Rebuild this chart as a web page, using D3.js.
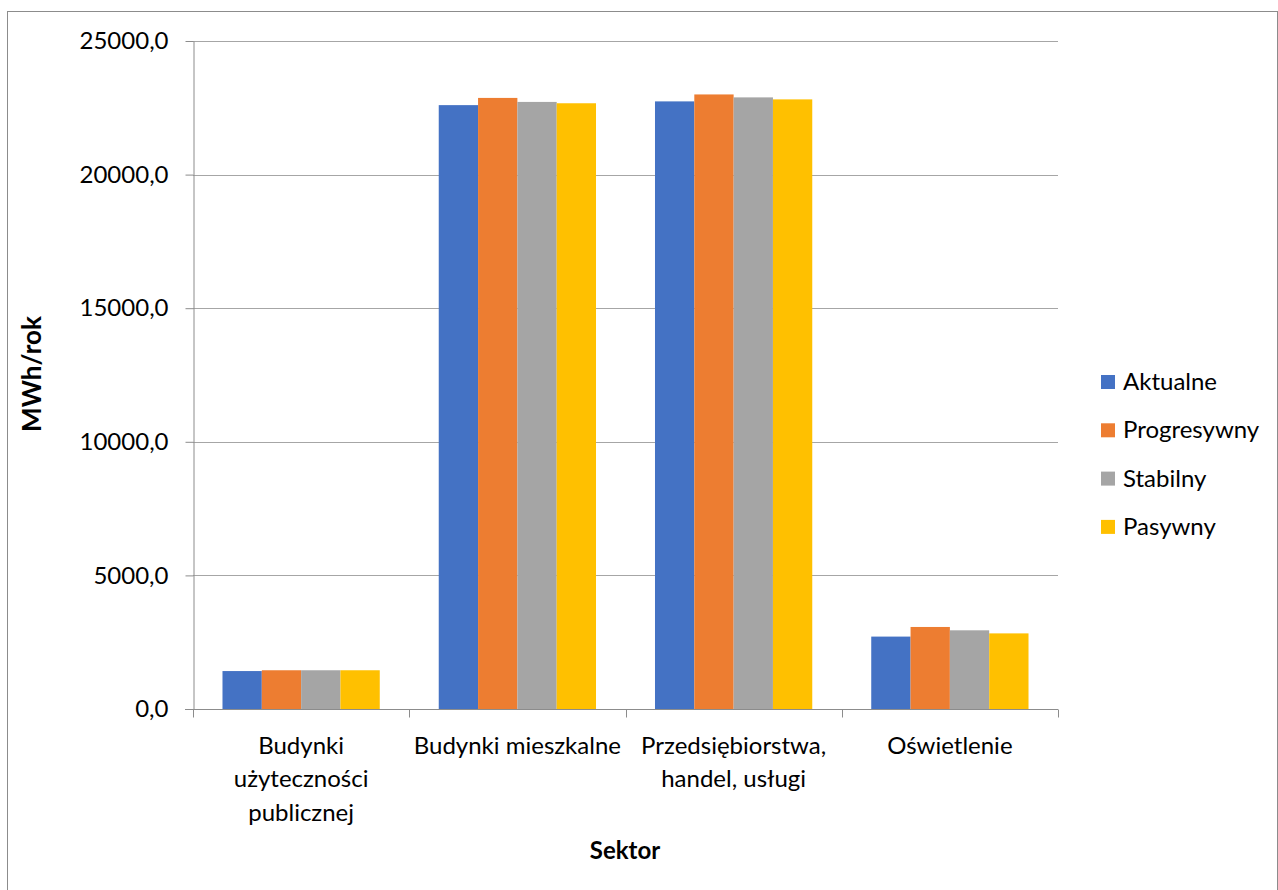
<!DOCTYPE html>
<html><head><meta charset="utf-8">
<script src="https://cdn.jsdelivr.net/npm/d3@7"></script>
<style>body{margin:0;background:#fff}svg{display:block}</style>
</head><body>
<svg id="chart" width="1278" height="890"></svg>
<script>
const categories = [
  ["Budynki", "użyteczności", "publicznej"],
  ["Budynki mieszkalne"],
  ["Przedsiębiorstwa,", "handel, usługi"],
  ["Oświetlenie"]
];
const seriesNames = ["Aktualne", "Progresywny", "Stabilny", "Pasywny"];
const seriesColors = ["#4472C4", "#ED7D31", "#A5A5A5", "#FFC000"];
const aktualne    = [1420, 22600, 22740, 2710];
const progresywny = [1450, 22870, 23000, 3070];
const stabilny    = [1450, 22720, 22890, 2945];
const pasywny     = [1450, 22670, 22815, 2830];
const yTicks = [0, 5000, 10000, 15000, 20000, 25000];
const xTitle = "Sektor";
const yTitle = "MWh/rok";

(function () {
const seriesValues = [aktualne, progresywny, stabilny, pasywny];
const FONT = "Lato, 'Open Sans', sans-serif";
const FS = 24;
const svg = d3.select("#chart");

svg.append("rect").attr("x", 7.5).attr("y", 11.5).attr("width", 1270).attr("height", 900)
  .attr("fill", "#fff").attr("stroke", "#8c8c8c").attr("stroke-width", 1);

const pL = 193, pR = 1058, pT = 41, pB = 709;
const catKeys = categories.map((c, i) => i);
const x = d3.scaleBand().domain(catKeys).range([pL, pR]).padding(0);
const xs = d3.scaleBand().domain(seriesNames).range([0, x.bandwidth()]).paddingInner(0).paddingOuter(0.75);
const y = d3.scaleLinear().domain([0, 25000]).range([pB, pT]);

// gridlines
svg.append("g").selectAll("line").data(yTicks.filter(t => t > 0)).join("line")
  .attr("x1", pL).attr("x2", pR)
  .attr("y1", d => Math.round(y(d)) + 0.5).attr("y2", d => Math.round(y(d)) + 0.5)
  .attr("stroke", "#a6a6a6").attr("stroke-width", 1);

// bars
const gCat = svg.append("g").selectAll("g").data(catKeys).join("g")
  .attr("transform", d => `translate(${x(d)},0)`);
gCat.selectAll("rect").data(ci => seriesNames.map((s, si) => ({s, si, v: seriesValues[si][ci]}))).join("rect")
  .attr("x", d => xs(d.s)).attr("width", xs.bandwidth())
  .attr("y", d => y(d.v)).attr("height", d => y(0) - y(d.v))
  .attr("fill", d => seriesColors[d.si]);

// y axis
const yAxis = d3.axisLeft(y).tickValues(yTicks).tickSize(8).tickSizeOuter(0).tickPadding(17)
  .tickFormat(d => d3.format(".1f")(d).replace(".", ","));
const gy = svg.append("g").attr("transform", `translate(${pL + 0.5},0)`).call(yAxis);
gy.selectAll("line, path").attr("stroke", "#8c8c8c");
gy.selectAll("text").attr("font-family", FONT).attr("font-size", FS).attr("fill", "#000");

// x axis
const gx = svg.append("g").attr("transform", `translate(0,${pB + 0.5})`);
gx.append("line").attr("x1", pL - 8).attr("x2", pR).attr("stroke", "#8c8c8c");
const bounds = catKeys.map(k => x(k)).concat([x(catKeys[catKeys.length - 1]) + x.bandwidth()]);
gx.selectAll("line.tk").data(bounds).join("line").attr("class", "tk")
  .attr("x1", d => Math.round(d) + 0.5).attr("x2", d => Math.round(d) + 0.5)
  .attr("y1", 0).attr("y2", 8).attr("stroke", "#8c8c8c");
gx.selectAll("text").data(catKeys).join("text")
  .attr("x", d => x(d) + x.bandwidth() / 2)
  .attr("text-anchor", "middle").attr("font-family", FONT).attr("font-size", FS).attr("fill", "#000")
  .each(function(d) {
    d3.select(this).selectAll("tspan").data(categories[d]).join("tspan")
      .attr("x", x(d) + x.bandwidth() / 2)
      .attr("y", (t, i) => 44 + i * 33.5)
      .text(t => t);
  });

// titles
svg.append("text").attr("x", 625).attr("y", 859).attr("text-anchor", "middle")
  .attr("font-family", FONT).attr("font-size", FS).attr("font-weight", "bold").text(xTitle);
svg.append("text").attr("transform", "translate(41,374) rotate(-90)").attr("text-anchor", "middle")
  .attr("font-family", FONT).attr("font-size", 26).attr("font-weight", "bold").text(yTitle);

// legend
const lg = svg.append("g").selectAll("g").data(seriesNames).join("g")
  .attr("transform", (d, i) => `translate(1101,${382 + i * 48.3})`);
lg.append("rect").attr("x", 0).attr("y", -7).attr("width", 14).attr("height", 14)
  .attr("fill", (d, i) => seriesColors[i]);
lg.append("text").attr("x", 22).attr("y", 8).attr("font-family", FONT).attr("font-size", FS)
  .attr("fill", "#000").text(d => d);
})();
</script>
</body></html>
